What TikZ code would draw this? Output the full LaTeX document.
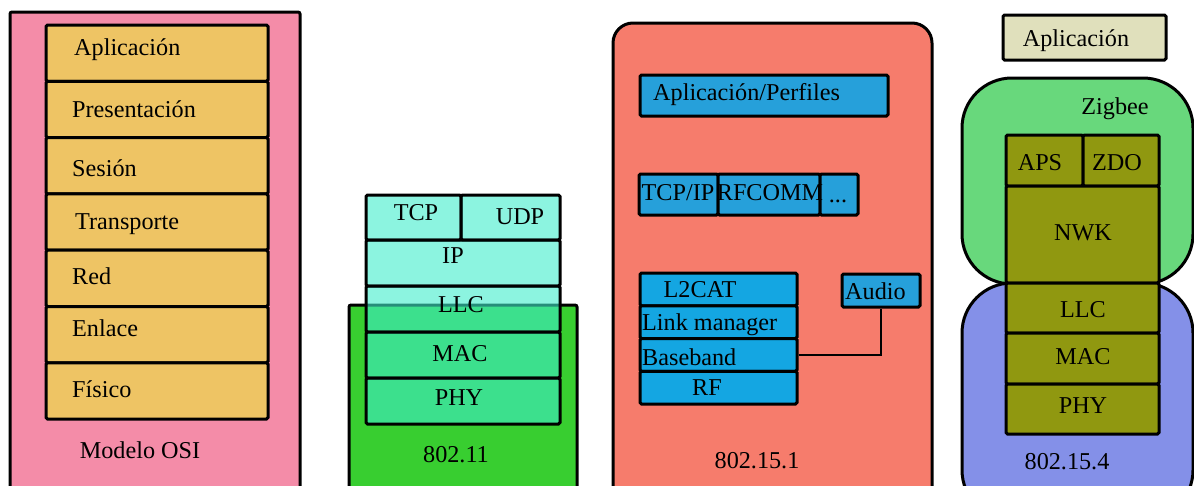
\documentclass[tikz,border=0pt]{standalone}
\usepackage{fontspec}
\setmainfont{Liberation Serif}
\definecolor{osipink}{HTML}{F48CA8}
\definecolor{osiyel}{HTML}{EEC464}
\definecolor{wifigreen}{HTML}{38CE30}
\definecolor{wifistack}{RGB}{64,236,204}
\definecolor{btsalmon}{HTML}{F67C6C}
\definecolor{btblueA}{HTML}{26A0DA}
\definecolor{btblueB}{HTML}{14A6E2}
\definecolor{zbbeige}{HTML}{E0E0BC}
\definecolor{zbgreen}{HTML}{68D87C}
\definecolor{zbblue}{HTML}{8490E8}
\definecolor{zbolive}{HTML}{909810}
\begin{document}
\begin{tikzpicture}[x=1pt,y=-1pt,
  txt/.style={inner sep=0pt,font=\fontsize{24.2}{29}\selectfont},
  frame/.style={draw=black,line width=3pt,inner sep=0pt,rectangle},
  layer/.style={frame,rounded corners=1.5pt},
  osil/.style={layer,fill=osiyel,minimum width=222pt,minimum height=56.3pt},
  wifil/.style={layer,fill=wifistack,fill opacity=0.6,minimum height=46pt},
  btl/.style={layer,fill=btblueB,minimum width=157pt,minimum height=32.75pt},
  btu/.style={layer,fill=btblueA,minimum height=41pt},
  zbl/.style={layer,fill=zbolive}]
\useasboundingbox (0,0) rectangle (1194,485);
\clip (0,0) rectangle (1194,485);
% ---------- OSI ----------
\node[frame,rounded corners=2pt,fill=osipink,minimum width=290pt,minimum height=488pt] (osi) at (155,256) {};
\node[osil] (o1) at (157,53.15) {};
\node[osil] (o2) at (157,109.45) {};
\node[osil] (o3) at (157,165.75) {};
\node[osil] (o4) at (157,222.05) {};
\node[osil] (o5) at (157,278.35) {};
\node[osil] (o6) at (157,334.65) {};
\node[osil] (o7) at (157,390.95) {};
\node[txt,anchor=west] (t1) at (74,49.5) {Aplicación};
\node[txt,anchor=west] (t2) at (72,109) {Presentación};
\node[txt,anchor=west] (t3) at (72,168) {Sesión};
\node[txt,anchor=west] (t4) at (75,224.5) {Transporte};
\node[txt,anchor=west] (t5) at (72,276) {Red};
\node[txt,anchor=west] (t6) at (72,328) {Enlace};
\node[txt,anchor=west] (t7) at (72,389) {Físico};
\node[txt] (osilab) at (140,450) {Modelo OSI};
% ---------- 802.11 ----------
\node[frame,rounded corners=2pt,fill=wifigreen,minimum width=228pt,minimum height=195pt] (wifi) at (463,402.5) {};
\node[wifil,minimum width=95pt,minimum height=45pt] (tcp) at (413.5,217.5) {};
\node[wifil,minimum width=99pt,minimum height=45pt] (udp) at (510.5,217.5) {};
\node[wifil,minimum width=194pt] (ip) at (463,263) {};
\node[wifil,minimum width=194pt] (llc) at (463,309) {};
\node[wifil,minimum width=194pt] (mac) at (463,355) {};
\node[wifil,minimum width=194pt] (phy) at (463,401) {};
\node[txt] (ttcp) at (416,213) {TCP};
\node[txt] (tudp) at (520,217) {UDP};
\node[txt] (tip) at (453,256) {IP};
\node[txt] (tllc) at (461,305) {LLC};
\node[txt] (tmac) at (460,354) {MAC};
\node[txt] (tphy) at (459,398) {PHY};
\node[txt] (wifilab) at (456,455) {802.11};
% ---------- 802.15.1 ----------
\node[frame,rounded corners=20pt,fill=btsalmon,minimum width=319pt,minimum height=497pt] (bt) at (772.5,271.5) {};
\node[btu,minimum width=248pt] (app) at (764,95.5) {};
\node[btu,minimum width=79pt] (btcp) at (678.5,194.5) {};
\node[btu,minimum width=102pt] (rfc) at (769,194.5) {};
\node[btu,minimum width=38pt] (dots) at (839,194.5) {};
\node[btl] (l2) at (718.5,289.375) {};
\node[btl] (lm) at (718.5,322.125) {};
\node[btl] (bb) at (718.5,354.875) {};
\node[btl] (rf) at (718.5,387.625) {};
\node[layer,fill=btblueA,minimum width=78pt,minimum height=33pt] (audio) at (881,290.5) {};
\draw[line width=2.5pt] (bb.east) -| (audio.south);
\node[txt,anchor=west] (tapp) at (653,94.5) {Aplicación/Perfiles};
\node[txt] (tbtcp) at (678,193) {TCP/IP};
\node[txt] (trfc) at (770,193) {RFCOMM};
\node[txt,anchor=base] (tdots) at (838,202) {...};
\node[txt] (tl2) at (700,290) {L2CAT};
\node[txt,anchor=west] (tlm) at (642,324.5) {Link manager};
\node[txt,anchor=west] (tbb) at (642,357) {Baseband};
\node[txt] (trf) at (707,388) {RF};
\node[txt,anchor=west] (taudio) at (845,291) {Audio};
\node[txt] (btlab) at (757,461) {802.15.1};
% ---------- Zigbee / 802.15.4 ----------
\node[layer,fill=zbbeige,minimum width=163pt,minimum height=45pt] (zapp) at (1084.5,37.5) {};
\node[txt] (tzapp) at (1076,41) {Aplicación};
\node[frame,rounded corners=50pt,fill=zbgreen,minimum width=231pt,minimum height=206pt] (zig) at (1077.5,181) {};
\node[frame,rounded corners=50pt,fill=zbblue,minimum width=231pt,minimum height=237pt] (ieee) at (1077.5,401.5) {};
\node[zbl,minimum width=77pt,minimum height=51pt] (aps) at (1044.5,160.5) {};
\node[zbl,minimum width=76pt,minimum height=51pt] (zdo) at (1121,160.5) {};
\node[zbl,minimum width=153pt,minimum height=97pt] (nwk) at (1082.5,234.5) {};
\node[zbl,minimum width=153pt,minimum height=50pt] (zllc) at (1082.5,308) {};
\node[zbl,minimum width=153pt,minimum height=51pt] (zmac) at (1082.5,358.5) {};
\node[zbl,minimum width=153pt,minimum height=50pt] (zphy) at (1082.5,409) {};
\node[txt] (tzig) at (1115,109) {Zigbee};
\node[txt] (taps) at (1040,163) {APS};
\node[txt] (tzdo) at (1117,163) {ZDO};
\node[txt] (tnwk) at (1083,233) {NWK};
\node[txt] (tzllc) at (1083,310) {LLC};
\node[txt] (tzmac) at (1083,357) {MAC};
\node[txt] (tzphy) at (1083,406) {PHY};
\node[txt] (zlab) at (1067,462) {802.15.4};
\end{tikzpicture}
\end{document}
